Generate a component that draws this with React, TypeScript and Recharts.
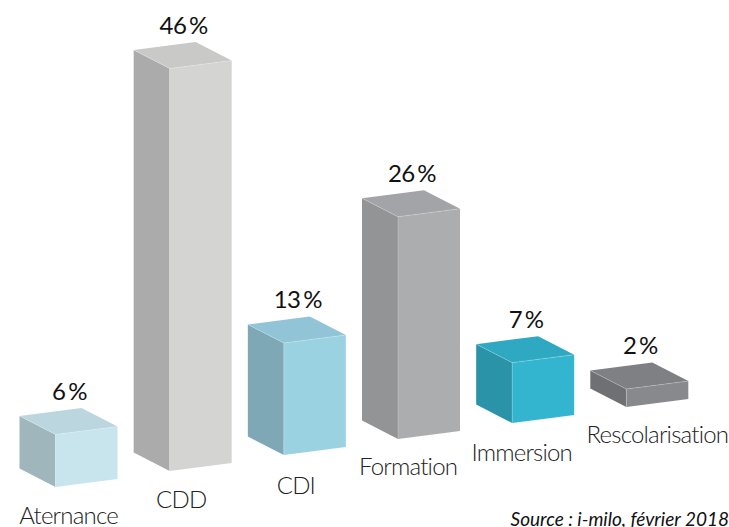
import React from "react";
import { BarChart, Bar, XAxis, YAxis, LabelList } from "recharts";

const categories = ["Aternance", "CDD", "CDI", "Formation", "Immersion", "Rescolarisation"];
const shareLabels = ["6 %", "46 %", "13 %", "26 %", "7 %", "2 %"];
// Block heights
const values = [6, 46, 12.8, 25.4, 6.9, 2.05];

const frontColors = ["#c8e4ec", "#d4d4d3", "#9bd2e2", "#acadaf", "#33b5cf", "#88898d"];
const sideColors = ["#9eb6bc", "#ababab", "#7ea8b6", "#939496", "#2b93a7", "#6f7074"];
const topColors = ["#bcd6e0", "#c9c9c8", "#90c4d6", "#a3a4a8", "#2fa9c2", "#7f8084"];

const data = categories.map((name, i) => ({ name, value: values[i], share: shareLabels[i] }));

const WIDTH = 729;
const HEIGHT = 527;
const PLOT_BOTTOM = 487;
const STEP_UP = 16; // each block sits higher than the one before
const SIDE_W = 36;
const SIDE_RISE = 18.5;
const FRONT_RISE = 8;
const FONT = "Lato, sans-serif";
const seam = "rgba(255,255,255,0.35)";
const tickNudgeX = [0, -1.5, -1, -3, -3.5, 18];
const tickNudgeY = [36.5, 37, 38.5, 36, 37.5, 36];

const pts = (list: number[][]) => list.map((p) => p.join(",")).join(" ");

const Block = (props: any) => {
  const { x, y, width, height, index } = props;
  const shift = index * STEP_UP;
  const fx = x + SIDE_W;
  const rx = x + width;
  const top = y - shift;
  const bottom = y + height - shift;
  return (
    <g>
      <polygon
        points={pts([[x, top - SIDE_RISE], [fx, top], [fx, bottom], [x, bottom - SIDE_RISE]])}
        fill={sideColors[index]}
      />
      <polygon
        points={pts([[fx, top], [rx, top - FRONT_RISE], [rx, bottom - FRONT_RISE], [fx, bottom]])}
        fill={frontColors[index]}
      />
      <polygon
        points={pts([
          [x, top - SIDE_RISE],
          [rx - SIDE_W, top - SIDE_RISE - FRONT_RISE],
          [rx, top - FRONT_RISE],
          [fx, top],
        ])}
        fill={topColors[index]}
      />
      <polyline
        points={pts([[x, top - SIDE_RISE], [fx, top], [rx, top - FRONT_RISE]])}
        fill="none"
        stroke={seam}
        strokeWidth={0.6}
      />
      <line x1={fx} y1={top} x2={fx} y2={bottom} stroke={seam} strokeWidth={0.6} />
    </g>
  );
};

const ShareLabel = (props: any) => {
  const { x, y, width, index, value } = props;
  return (
    <text
      x={x + width / 2 + 1}
      y={y - index * STEP_UP - 35}
      textAnchor="middle"
      fontFamily={FONT}
      fontSize={24}
      fontWeight={400}
      letterSpacing={-0.5}
      wordSpacing={-3}
      fill="#111111"
    >
      {value}
    </text>
  );
};

const CategoryTick = (props: any) => {
  const { x, index, payload } = props;
  return (
    <text
      x={x + tickNudgeX[index]}
      y={PLOT_BOTTOM - index * STEP_UP + tickNudgeY[index]}
      textAnchor="middle"
      fontFamily={FONT}
      fontSize={24}
      fontWeight={300}
      letterSpacing={-0.8}
      fill="#222222"
    >
      {payload.value}
    </text>
  );
};

export default function App() {
  return (
    <div style={{ position: "absolute", left: 0, top: 0, width: WIDTH, height: HEIGHT, overflow: "hidden", background: "#fff" }}>
      <BarChart
        width={WIDTH}
        height={HEIGHT}
        data={data}
        barSize={98}
        margin={{ top: 49.5, right: 32.5, bottom: 0, left: 11.5 }}
      >
        <XAxis
          dataKey="name"
          axisLine={false}
          tickLine={false}
          height={40}
          interval={0}
          tick={CategoryTick}
        />
        <YAxis hide domain={[0, 50]} />
        <Bar dataKey="value" shape={Block} isAnimationActive={false}>
          <LabelList dataKey="share" content={ShareLabel} />
        </Bar>
      </BarChart>
      <div
        style={{
          position: "absolute",
          right: 0,
          top: 507,
          fontFamily: FONT,
          fontStyle: "italic",
          fontSize: 19,
          lineHeight: "24px",
          color: "#111",
          whiteSpace: "nowrap",
        }}
      >
        Source : i-milo, février 2018
      </div>
    </div>
  );
}
